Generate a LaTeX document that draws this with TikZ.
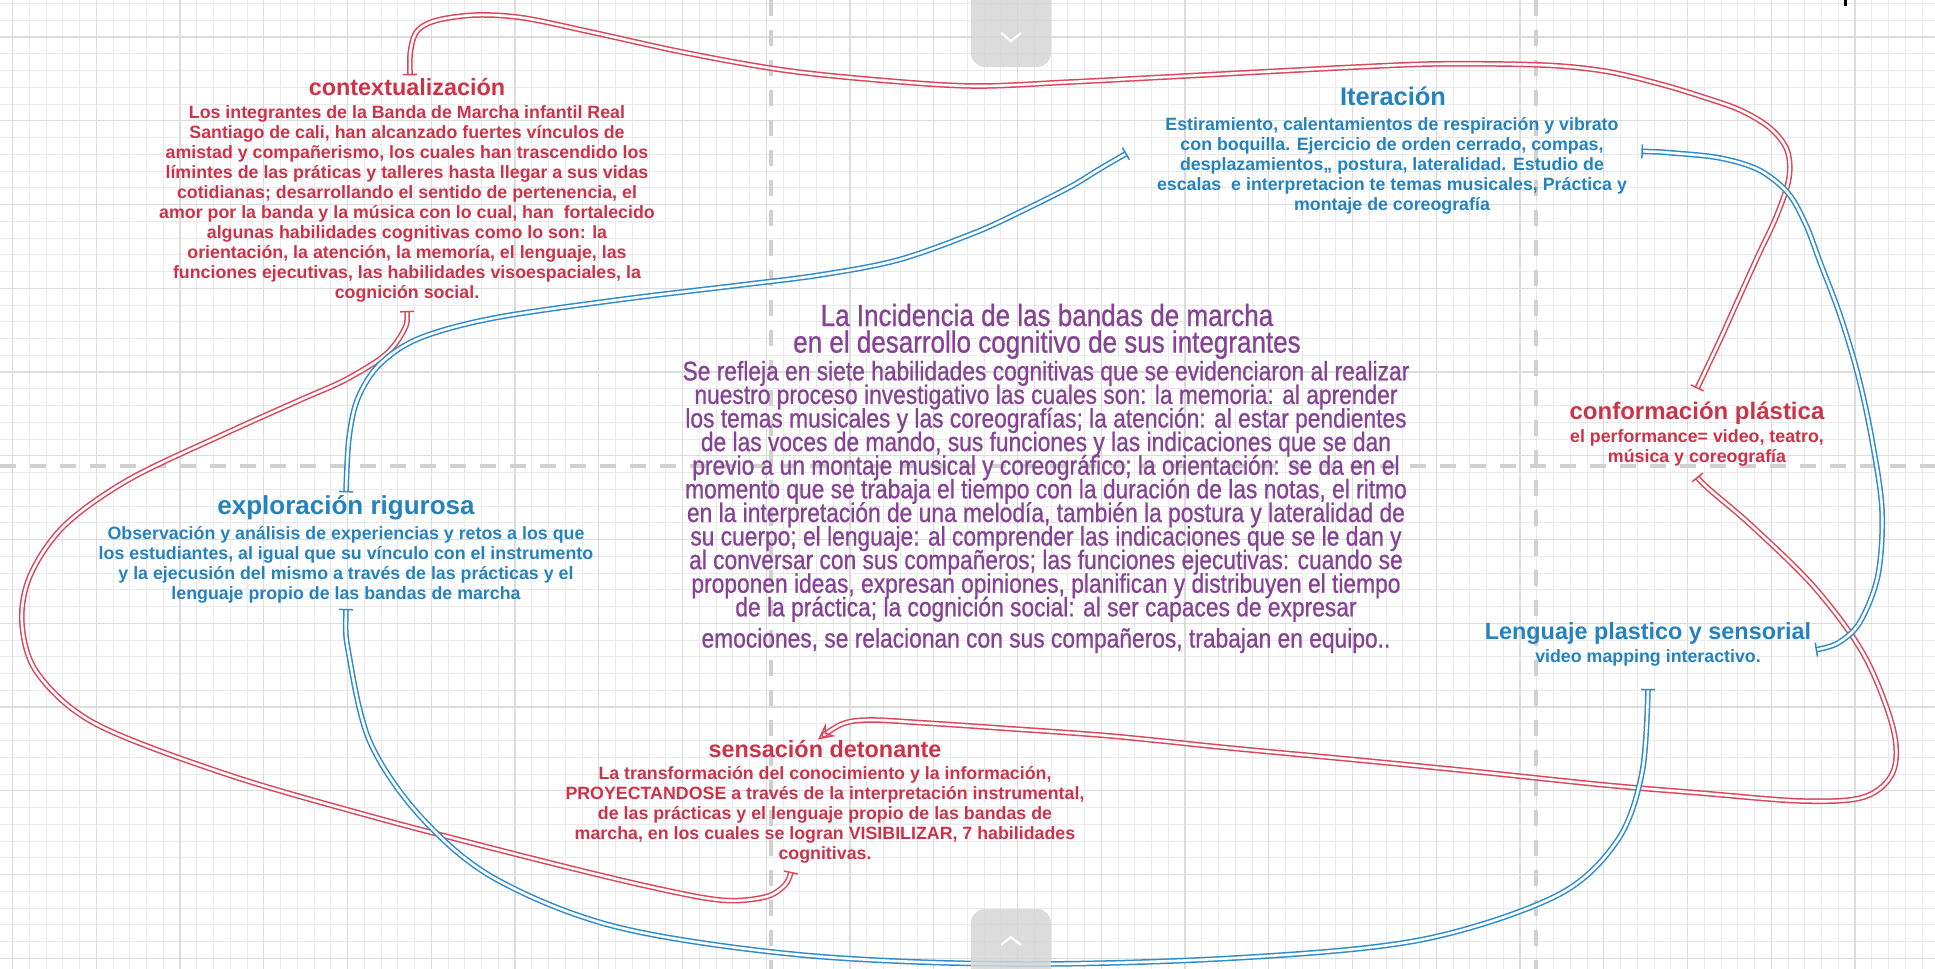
\documentclass[tikz,border=0pt]{standalone}
\usepackage{fontspec}
\setmainfont{Liberation Sans}
\newfontfamily\narrowfont[FakeStretch=0.85,FakeBold=0.8]{Liberation Sans}
\usetikzlibrary{arrows.meta}
\definecolor{txred}{RGB}{206,50,72}
\definecolor{txblue}{RGB}{36,130,190}
\definecolor{txpurple}{RGB}{134,66,148}
\definecolor{lnred}{RGB}{220,70,90}
\definecolor{lnblue}{RGB}{45,140,205}
\definecolor{gridminor}{RGB}{234,234,234}
\definecolor{gridmajor}{RGB}{220,220,220}
\definecolor{sepgray}{RGB}{208,208,208}
\definecolor{tabgray}{RGB}{214,214,214}
\newcommand{\topstrut}{\leavevmode\vrule width 0pt height 1em depth 0pt\relax}
\newcommand{\botstrut}{\vrule width 0pt height 0pt depth 0.25em\relax}
\newcommand{\tightlines}{\lineskiplimit=-100pt\relax\lineskip=0pt\relax}
\begin{document}
\begin{tikzpicture}[x=0.5pt,y=-0.5pt,
  ttl/.style={inner sep=0pt, anchor=base, text height=0.8em, text depth=0.2em},
  bodytext/.style={inner sep=0pt, anchor=north, align=center,
     font=\bfseries\fontsize{8.9}{10}\selectfont\tightlines},
  conn/.style={line width=0.75pt, double=white, double distance=1.3pt, line join=round},
  rconn/.style={conn, draw=lnred},
  bconn/.style={conn, draw=lnblue},
  teeboth/.style={{Bar[width=7pt]}-{Bar[width=7pt]}},
  sepline/.style={draw=sepgray, line width=2pt, dash pattern=on 8pt off 7pt}
]
\useasboundingbox (0,0) rectangle (1935,969);
\fill[white] (0,0) rectangle (1935,969);
% grid
\foreach \i in {0,...,115} {
  \pgfmathsetmacro\xx{12.5+16.75*\i}
  \draw[gridminor, line width=0.5pt] (\xx,0) -- (\xx,969);
}
\foreach \j in {0,...,57} {
  \pgfmathsetmacro\yy{3.5+16.75*\j}
  \draw[gridminor, line width=0.5pt] (0,\yy) -- (1935,\yy);
}
\foreach \i in {0,...,22} {
  \pgfmathsetmacro\xx{12.5+83.75*\i}
  \draw[gridmajor, line width=0.6pt] (\xx,0) -- (\xx,969);
}
\foreach \j in {0,...,11} {
  \pgfmathsetmacro\yy{37+83.75*\j}
  \draw[gridmajor, line width=0.6pt] (0,\yy) -- (1935,\yy);
}
% separators
\draw[sepline] (771,0) -- (771,969);
\draw[sepline] (1536,0) -- (1536,969);
\draw[sepline] (0,466) -- (1935,466);
% small mark at the top edge
\draw[black, line width=1.5pt] (1845,0) -- (1845,6);

% ---------- texts ----------
\node[ttl, font=\bfseries\fontsize{11.7}{14}\selectfont, text=txred] (ctxT) at (407,95.7) {contextualización};
\node[bodytext, text=txred] (ctxB) at (407,99.8) {\topstrut Los integrantes de la Banda de Marcha infantil Real\\
Santiago de cali, han alcanzado fuertes vínculos de\\
amistad y compañerismo, los cuales han trascendido los\\
límintes de las práticas y talleres hasta llegar a sus vidas\\
cotidianas; desarrollando el sentido de pertenencia, el\\
amor por la banda y la música con lo cual, han\ \ fortalecido\\
algunas habilidades cognitivas como lo son: la\\
orientación, la atención, la memoría, el lenguaje, las\\
funciones ejecutivas, las habilidades visoespaciales, la\\
cognición social.\botstrut};

\node[ttl, font=\bfseries\fontsize{12.7}{15}\selectfont, text=txblue] (itT) at (1393,105.6) {Iteración};
\node[bodytext, text=txblue] (itB) at (1392,111.8) {\topstrut Estiramiento, calentamientos de respiración y vibrato\\
con boquilla. Ejercicio de orden cerrado, compas,\\
desplazamientos,, postura, lateralidad. Estudio de\\
escalas\ \ e interpretacion te temas musicales, Práctica y\\
montaje de coreografía\botstrut};

\node[inner sep=0pt, anchor=north, align=center, text=txpurple,
  font=\narrowfont\fontsize{15.3}{13.3}\selectfont\tightlines] (cenT) at (1047,295)
  {\topstrut La Incidencia de las bandas de marcha\\en el desarrollo cognitivo de sus integrantes};
\node[inner sep=0pt, anchor=north, align=center, text=txpurple,
  font=\narrowfont\fontsize{13.4}{11.8}\selectfont\tightlines] (cenB) at (1046,360.5)
  {Se refleja en siete habilidades cognitivas que se evidenciaron al realizar\\
nuestro proceso investigativo las cuales son: la memoria: al aprender\\
los temas musicales y las coreografías; la atención: al estar pendientes\\
de las voces de mando, sus funciones y las indicaciones que se dan\\
previo a un montaje musical y coreográfico; la orientación: se da en el\\
momento que se trabaja el tiempo con la duración de las notas, el ritmo\\
en la interpretación de una melodía, también la postura y lateralidad de\\
su cuerpo; el lenguaje: al comprender las indicaciones que se le dan y\\
al conversar con sus compañeros; las funciones ejecutivas: cuando se\\
proponen ideas, expresan opiniones, planifican y distribuyen el tiempo\\
de la práctica; la cognición social: al ser capaces de expresar\\[3.8pt]
emociones, se relacionan con sus compañeros, trabajan en equipo..\botstrut};

\node[ttl, font=\bfseries\fontsize{12}{14}\selectfont, text=txred] (conT) at (1697,419) {conformación plástica};
\node[bodytext, text=txred] (conB) at (1697,423.8) {\topstrut el performance= video, teatro,\\
música y coreografía\botstrut};

\node[ttl, font=\bfseries\fontsize{13}{15}\selectfont, text=txblue] (expT) at (346,514.8) {exploración rigurosa};
\node[bodytext, text=txblue] (expB) at (346,520.8) {\topstrut Observación y análisis de experiencias y retos a los que\\
los estudiantes, al igual que su vínculo con el instrumento\\
y la ejecusión del mismo a través de las prácticas y el\\
lenguaje propio de las bandas de marcha\botstrut};

\node[ttl, font=\bfseries\fontsize{11.7}{14}\selectfont, text=txblue] (lenT) at (1648,639.8) {Lenguaje plastico y sensorial};
\node[bodytext, text=txblue] (lenB) at (1648,643.8) {\topstrut video mapping interactivo.\botstrut};

\node[ttl, font=\bfseries\fontsize{11.7}{14}\selectfont, text=txred] (senT) at (825,757) {sensación detonante};
\node[bodytext, text=txred] (senB) at (825,761.5) {\topstrut La transformación del conocimiento y la información,\\
PROYECTANDOSE a través de la interpretación instrumental,\\
de las prácticas y el lenguaje propio de las bandas de\\
marcha, en los cuales se logran VISIBILIZAR, 7 habilidades\\
cognitivas.\botstrut};

% ---------- connectors ----------
% red: contextualizacion -> conformacion plastica
\draw[rconn, teeboth] plot[smooth, tension=0.55] coordinates {([xshift=1.5pt,yshift=2pt]ctxT.north) (411,48) (418,30) (438,20) (477,15) (524,18) (591,32) (687,53) (783,70) (878,80) (974,86) (1070,82) (1166,77) (1260,72) (1357,67) (1430,64) (1500,64) (1560,66) (1610,72) (1660,84) (1700,96) (1740,110) (1770,128) (1787,150) (1789,178) (1777,215) (1757,258) (1738,300) (1720,340) ([yshift=7pt]conT.north)};
% red: contextualizacion -> sensacion detonante
\draw[rconn, teeboth] plot[smooth, tension=0.55] coordinates {([yshift=-4pt]ctxB.south) (404,330) (385,355) (345,380) (300,400) (222,435) (128,480) (64,526) (30,576) (22,624) (38,674) (96,724) (226,774) (370,816) (519,855) (642,885) (720,900) (765,897) (785,885) ([xshift=-17pt,yshift=-3.6pt]senB.south)};
% red: conformacion plastica -> sensacion detonante
\draw[rconn, {Bar[width=7pt]}-{Stealth[length=8pt,width=8pt,open]}] plot[smooth, tension=0.55] coordinates {([yshift=-5pt]conB.south) (1710,490) (1753,527) (1815,588) (1864,655) (1893,728) (1893,772) (1864,797) (1802,801) (1700,793) (1605,785) (1480,772) (1358,760) (1230,748) (1111,736) (1000,728) (926,723) (870,720) (842,724) ([xshift=-3.5pt,yshift=0.5pt]senT.north)};
% blue: iteracion -> exploracion rigurosa
\draw[bconn, teeboth] plot[smooth, tension=0.55] coordinates {([xshift=-15pt,yshift=5pt]itB.west) (1098,170) (1070,187) (1020,212) (974,233) (898,260) (820,275) (741,285) (617,300) (494,318) (420,338) (380,364) (358,398) (349,438) ([yshift=3pt]expT.north)};
% blue: iteracion -> lenguaje plastico
\draw[bconn, teeboth] plot[smooth, tension=0.55] coordinates {([xshift=7pt,yshift=6pt]itB.east) (1673,153) (1720,158) (1759,170) (1788,193) (1806,225) (1820,262) (1840,315) (1858,375) (1872,440) (1882,510) (1878,575) (1860,622) (1838,643) ([xshift=2pt,yshift=-8pt]lenT.east)};
% blue: exploracion -> lenguaje plastico
\draw[bconn, teeboth] plot[smooth, tension=0.55] coordinates {([yshift=-2.5pt]expB.south) (349,655) (370,742) (420,816) (494,878) (617,927) (802,955) (1012,964) (1235,958) (1420,940) (1556,896) (1617,841) (1642,773) ([yshift=-11pt]lenB.south)};

% ---------- navigation tabs ----------
\fill[tabgray, opacity=0.85, rounded corners=7pt] (971,-12) rectangle (1051,67);
\draw[white, line width=1.1pt] (1001,33) -- (1011,41) -- (1021,33);
\fill[tabgray, opacity=0.85, rounded corners=7pt] (971,909) rectangle (1051,982);
\draw[white, line width=1.1pt] (1001,945) -- (1011,937) -- (1021,945);
\end{tikzpicture}
\end{document}
